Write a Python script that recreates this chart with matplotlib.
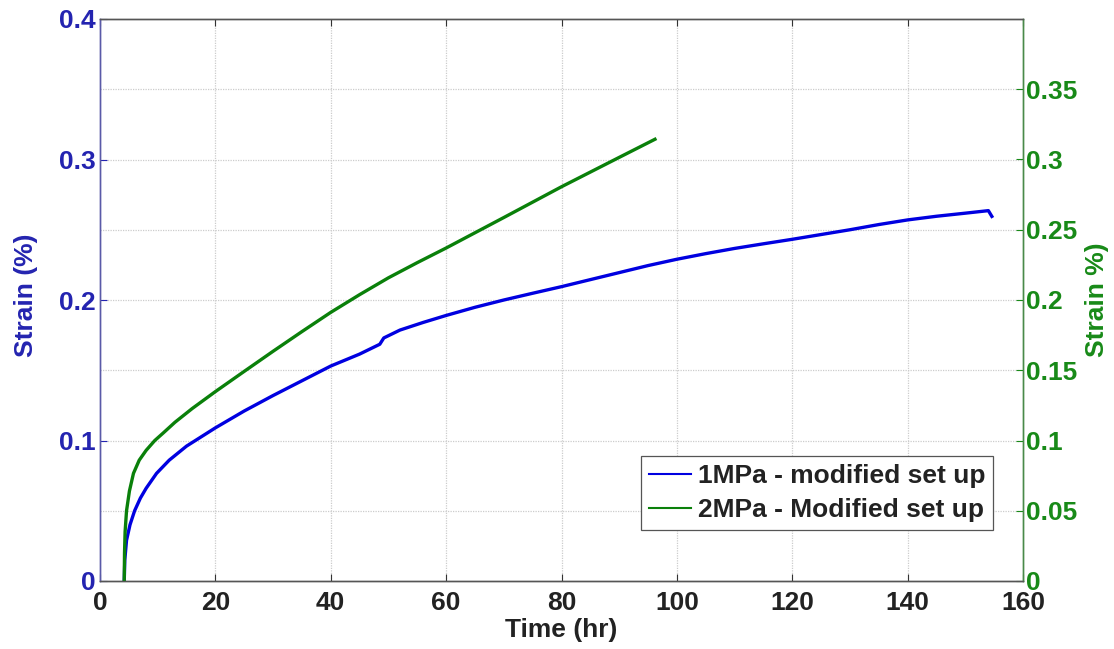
import matplotlib
matplotlib.use("Agg")
import matplotlib.pyplot as plt

plt.rcParams['font.family'] = ['Liberation Sans', 'DejaVu Sans']

# 1 MPa creep test (left axis)
time_1mpa = [4.2, 4.3, 4.6, 5.2, 6.0, 7.0, 8.0, 9.8, 12, 15, 20, 25, 30, 35, 40, 45,
             48.5, 49.2, 52, 56, 60, 65, 70, 75, 80, 85, 90, 95, 100, 105, 110, 115, 120,
             125, 130, 135, 140, 145, 150, 154, 154.6]
strain_1mpa = [0.0, 0.015, 0.029, 0.040, 0.050, 0.059, 0.066, 0.0766, 0.086, 0.096, 0.109,
               0.121, 0.132, 0.1425, 0.153, 0.1615, 0.1685, 0.1730, 0.1786, 0.184, 0.189,
               0.1948, 0.2000, 0.2048, 0.2095, 0.2145, 0.2195, 0.2245, 0.2290, 0.2330,
               0.2367, 0.2400, 0.2432, 0.2466, 0.2500, 0.2537, 0.2570, 0.2596, 0.2618,
               0.2636, 0.2595]

# 2 MPa creep test (right axis)
time_2mpa = [4.2, 4.25, 4.35, 4.6, 5.1, 5.8, 6.8, 8.0, 9.5, 11, 13, 16, 20, 25, 30, 35, 40,
             45, 50, 55, 60, 70, 80, 90, 96.2]
strain_2mpa = [0.0, 0.02, 0.035, 0.050, 0.064, 0.0766, 0.086, 0.093, 0.100, 0.1055, 0.113,
               0.1228, 0.1348, 0.1492, 0.1635, 0.1775, 0.1912, 0.2038, 0.2158, 0.2266,
               0.2370, 0.2587, 0.2806, 0.3015, 0.3144]

x_ticks = [0, 20, 40, 60, 80, 100, 120, 140, 160]
left_ticks = [0, 0.1, 0.2, 0.3, 0.4]
right_ticks = [0, 0.05, 0.1, 0.15, 0.2, 0.25, 0.3, 0.35]

BLUE = '#0000e0'
GREEN = '#0a800a'
BLUE_TXT = '#2424b0'
GREEN_TXT = '#188a18'
FS = 19

fig = plt.figure(figsize=(11.14, 6.49), dpi=100)
ax = fig.add_axes([100 / 1114, 1 - 581 / 649, (1023 - 100) / 1114, (581 - 19) / 649])
ax2 = ax.twinx()

l1, = ax.plot(time_1mpa, strain_1mpa, color=BLUE, lw=2.4, label='1MPa - modified set up')
l2, = ax2.plot(time_2mpa, strain_2mpa, color=GREEN, lw=2.4, label='2MPa - Modified set up')

ax.set_xlim(0, 160)
ax.set_ylim(0, 0.4)
ax2.set_ylim(0, 0.4)
ax.set_xticks(x_ticks)
ax.set_yticks(left_ticks)
ax2.set_yticks(right_ticks)
ax.set_yticklabels(['0', '0.1', '0.2', '0.3', '0.4'])
ax2.set_yticklabels(['0', '0.05', '0.1', '0.15', '0.2', '0.25', '0.3', '0.35'])

# dotted grid: vertical at x ticks, horizontal every 0.05
for xv in x_ticks[1:-1]:
    ax.axvline(xv, color='#cccccc', lw=0.9, ls=(0, (1, 1)), zorder=0)
for yv in right_ticks[1:]:
    ax.axhline(yv, color='#cccccc', lw=0.9, ls=(0, (1, 1)), zorder=0)

ax.tick_params(axis='x', direction='in', top=True, length=5, width=0.8, colors='#333333',
               labelsize=FS, pad=7)
ax.tick_params(axis='y', direction='in', length=5, width=0.8, colors=BLUE_TXT,
               labelsize=FS, pad=3)
ax2.tick_params(axis='y', direction='in', length=5, width=0.8, colors=GREEN_TXT,
                labelsize=FS, pad=2)
for lab in ax.get_xticklabels() + ax.get_yticklabels() + ax2.get_yticklabels():
    lab.set_fontweight('bold')
for lab in ax.get_xticklabels():
    lab.set_color('#222222')

for a in (ax, ax2):
    a.spines['top'].set_color('#555555')
    a.spines['bottom'].set_color('#555555')
    a.spines['left'].set_color('#5a5aa8')
    a.spines['right'].set_color('#4a8a4a')
    for s in a.spines.values():
        s.set_linewidth(1.0)

ax.set_xlabel('Time (hr)', fontsize=FS, fontweight='bold', color='#222222', labelpad=2)
ax.set_ylabel('Strain (%)', fontsize=FS, fontweight='bold', color=BLUE_TXT)
ax.yaxis.set_label_coords((38 - 100) / 923, (581 - 295) / 562)
ax2.set_ylabel('Strain %)', fontsize=FS, fontweight='bold', color=GREEN_TXT)
ax2.yaxis.set_label_coords((1085 - 100) / 923, 0.5)

leg = ax2.legend(handles=[l1, l2], loc='lower right',
                 bbox_to_anchor=(993 / 1114, 1 - 530 / 649), bbox_transform=fig.transFigure,
                 fancybox=False, framealpha=1, edgecolor='#555555', fontsize=FS,
                 handlelength=1.6, handletextpad=0.25, borderpad=0.3, labelspacing=0.38,
                 borderaxespad=0)
leg.get_frame().set_linewidth(0.9)
for t in leg.get_texts():
    t.set_fontweight('bold')
    t.set_color('#222222')
for h in leg.legend_handles:
    h.set_linewidth(1.5)

fig.savefig('out.png', dpi=100)
